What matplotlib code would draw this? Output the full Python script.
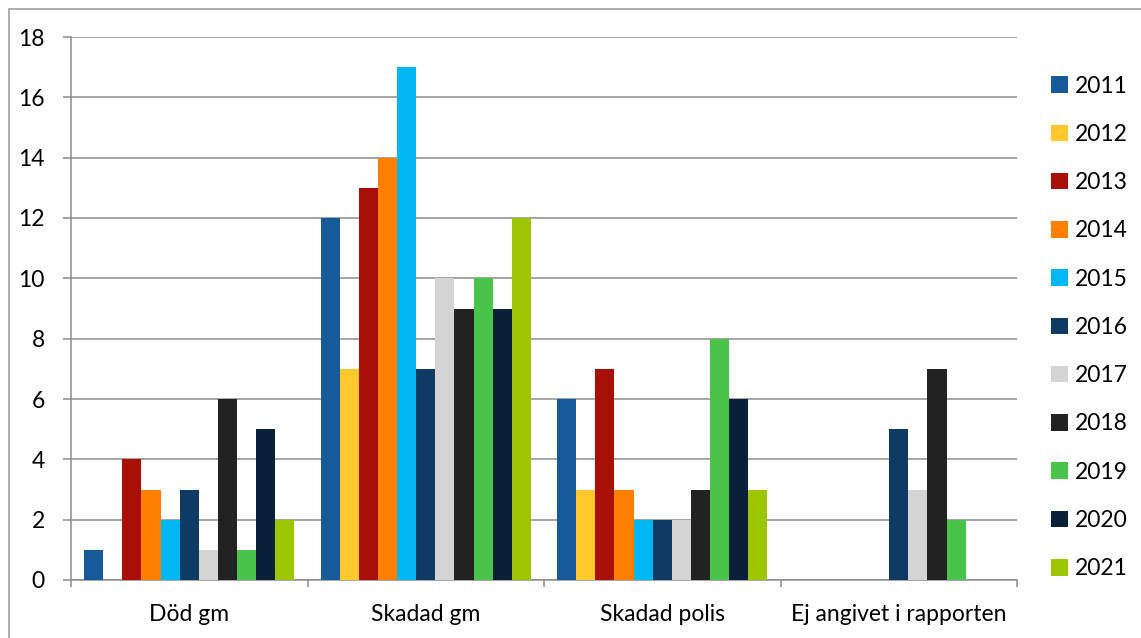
import matplotlib.pyplot as plt
import numpy as np
from matplotlib.patches import Rectangle

# --- Data ---
categories = ["Död gm", "Skadad gm", "Skadad polis", "Ej angivet i rapporten"]
years = ["2011", "2012", "2013", "2014", "2015", "2016",
         "2017", "2018", "2019", "2020", "2021"]
values = {
    "2011": [1, 12, 6, 0],
    "2012": [0, 7, 3, 0],
    "2013": [4, 13, 7, 0],
    "2014": [3, 14, 3, 0],
    "2015": [2, 17, 2, 0],
    "2016": [3, 7, 2, 5],
    "2017": [1, 10, 2, 3],
    "2018": [6, 9, 3, 7],
    "2019": [1, 10, 8, 2],
    "2020": [5, 9, 6, 0],
    "2021": [2, 12, 3, 0],
}
colors = ["#175A9A", "#FFC92E", "#A80F07", "#FF7F00", "#00B6F3", "#0E3A64",
          "#D4D4D4", "#222222", "#4AC34A", "#0A1F38", "#9BC600"]

plt.rcParams['font.family'] = ['Lato', 'DejaVu Sans']
fs = 16.5

fig = plt.figure(figsize=(11.41, 6.38), dpi=100)
ax = fig.add_axes([71 / 1141, 1 - 580 / 638, (1017 - 71) / 1141, (580 - 37) / 638])

# ram runt hela figuren
fig.patches.append(Rectangle((9 / 1141, -0.05), 1.2, 1 - 9 / 638 + 0.05,
                             transform=fig.transFigure, fill=False,
                             edgecolor="#A0A0A0", linewidth=1.2))

x = np.arange(len(categories))
w = 0.89 / len(years)
for i, (yr, c) in enumerate(zip(years, colors)):
    ax.bar(x - 0.445 + w * (i + 0.5), values[yr], width=w, color=c, label=yr, zorder=3)

ax.set_xlim(-0.5, len(categories) - 0.5)
ax.set_ylim(0, 18)
ax.set_yticks(range(0, 19, 2))
ax.yaxis.grid(True, color="#8C8C8C", linewidth=1.1, zorder=0)
ax.tick_params(axis='y', length=5.8, width=1.1, color="#8C8C8C", labelsize=fs, pad=13)

ax.set_xticks(x)
ax.set_xticklabels(categories, fontsize=fs)
ax.tick_params(axis='x', length=0, pad=17)
ax.set_xticks(np.arange(-0.5, len(categories)), minor=True)
ax.tick_params(axis='x', which='minor', length=5, width=1.1, color="#8C8C8C")

for s in ["top", "right"]:
    ax.spines[s].set_visible(False)
for s in ["left", "bottom"]:
    ax.spines[s].set_color("#8C8C8C")
    ax.spines[s].set_linewidth(1.1)

ax.legend(loc="upper left", bbox_to_anchor=(1.036, 0.929), frameon=False,
          fontsize=fs, handlelength=0.74, handleheight=0.74, handletextpad=0.3,
          labelspacing=1.19, borderaxespad=0, borderpad=0)

plt.savefig("out.png", dpi=100)
